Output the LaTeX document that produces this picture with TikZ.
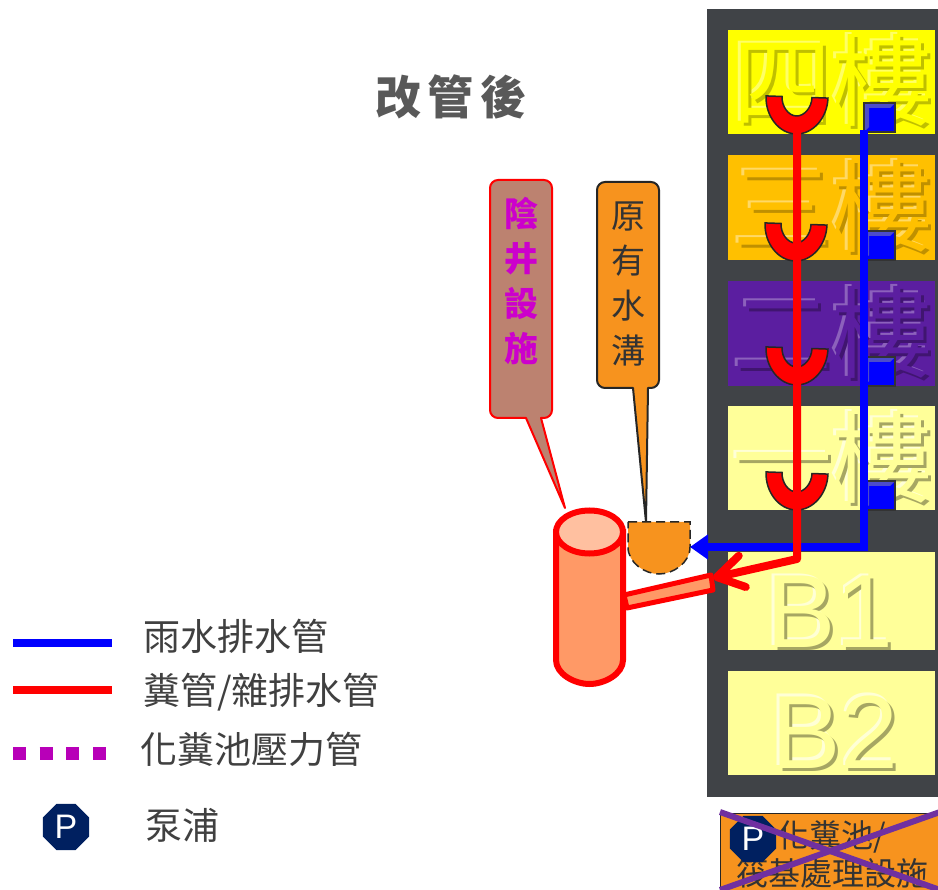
\documentclass[tikz,border=0pt]{standalone}
\usepackage{fontspec}
\setmainfont{Noto Sans CJK TC}
\newfontfamily\latinfont{Liberation Sans}
\usetikzlibrary{arrows.meta,shapes.geometric}

\definecolor{wallgray}{HTML}{404347}
\definecolor{textgray}{HTML}{404040}
\definecolor{tankorange}{HTML}{F7931E}
\definecolor{septicfill}{HTML}{FF9966}
\definecolor{septictop}{HTML}{FFC0A0}
\definecolor{manholefill}{HTML}{BC8270}
\definecolor{manholetext}{HTML}{CC00CC}
\definecolor{pumpblue}{HTML}{002060}
\definecolor{crosspurple}{HTML}{7030A0}
\definecolor{floorfour}{HTML}{FFFF00}
\definecolor{floorthree}{HTML}{FFC000}
\definecolor{floortwo}{HTML}{5B1EA0}
\definecolor{floorone}{HTML}{FFFF99}

\tikzset{
	floorbox/.style={anchor=north west, inner sep=0pt, minimum width=207pt},
	rainpipe/.style={draw=blue, line width=8pt},
	soilpipe/.style={draw=red, line width=8pt},
	bowlline/.style={fill=red, draw=black!85, line width=1.5pt},
	pumpsign/.style={regular polygon, regular polygon sides=8,
		fill=pumpblue, text=white, inner sep=0pt, minimum size=50pt,
		font=\latinfont\fontsize{34}{34}\selectfont},
	legendtext/.style={anchor=west, inner sep=0pt, text=textgray,
		font=\fontsize{37}{37}\selectfont},
	calloutbody/.style={line width=2pt, line join=round},
}

% floor label with a raised look
\newcommand{\embossed}[6]{
	\node[text=#4, font=#6] at ([shift={(-2.5,-2.5)}]#1) {#2};
	\node[text=#5, font=#6] at ([shift={(3,3)}]#1) {#2};
	\node[text=#3, font=#6] at (#1) {#2};
}
\newcommand{\bowl}[1]{
	\draw[bowlline, shift={(#1)}, rotate=-2] (-31, 0) .. controls +(0, 20) and +(-17, 0) ..
		(0, 37) .. controls +(17, 0) and +(0, 20) ..
		(31, 0) -- (15, 0)
		.. controls +(0, 10) and +(8, 0) .. (0, 19)
		.. controls +(-8, 0) and +(0, 10) .. (-15, 0)
		-- cycle;
}
\newcommand{\drainbox}[1]{
	\fill[blue] (#1) rectangle +(31, 29);
	\fill[blue!70!black!70] (#1) -- +(31, 0) -- +(26, 5) -- +(5, 5) -- +(5, 24) -- +(0, 29) -- cycle;
	\draw[black!80, line width=1.2pt] (#1) rectangle +(31, 29);
}

\newcommand{\floorfont}{\fontsize{100}{100}\selectfont}
\newcommand{\basefont}{\latinfont\fontsize{104}{104}\selectfont}

\begin{document}
\begin{tikzpicture}[x=1pt, y=-1pt]
\useasboundingbox (0, 0) rectangle (938, 890);
\clip (0, 0) rectangle (938, 890);

\fill[wallgray] (707, 9) rectangle (938, 797);

\node[floorbox, fill=floorfour, minimum height=104pt] (floor4) at (728, 30) {};
\node[floorbox, fill=floorthree, minimum height=105pt] (floor3) at (728, 155) {};
\node[floorbox, fill=floortwo, minimum height=105pt] (floor2) at (728, 281) {};
\node[floorbox, fill=floorone, minimum height=104pt] (floor1) at (728, 406) {};
\node[floorbox, fill=floorone, minimum height=98pt] (floorb1) at (728, 552) {};
\node[floorbox, fill=floorone, minimum height=104pt] (floorb2) at (728, 671) {};

\embossed{832, 81}{四樓}{floorfour}{floorfour!60!white}{floorfour!75!black}{\floorfont}
\embossed{832, 207}{三樓}{floorthree}{floorthree!60!white}{floorthree!75!black}{\floorfont}
\embossed{832, 333}{二樓}{floortwo}{floortwo!70!white}{floortwo!70!black}{\floorfont}
\embossed{832, 458}{一樓}{floorone}{floorone!40!white}{floorone!65!black}{\floorfont}
\embossed{830, 612}{B1}{floorone}{floorone!40!white}{floorone!65!black}{\basefont}
\embossed{835, 732}{B2}{floorone}{floorone!40!white}{floorone!65!black}{\basefont}

\drainbox{864, 103}
\drainbox{864, 231}
\drainbox{864, 357}
\drainbox{864, 481}

\bowl{797, 97}
\bowl{796, 224}
\bowl{797, 348}
\bowl{797, 473}

\node[anchor=center, text=black!65, inner sep=0pt,
	font=\bfseries\fontsize{46}{46}\selectfont] (title) at (451, 97)
	{改\hspace{7pt}管\hspace{7pt}後};

% callouts
\draw[calloutbody, fill=manholefill, draw=red] (526, 418) [rounded corners=8pt] -- (490, 418)
	-- (490, 180) -- (552, 180) -- (552, 418) [sharp corners] -- (541, 418) -- (565, 508) -- cycle;
\node[text=manholetext, align=center, inner sep=0pt,
	font=\bfseries\fontsize{34}{45}\selectfont] (manholelabel) at (521, 281) {陰\\井\\設\\施};

\draw[calloutbody, fill=tankorange, draw=black!85] (633, 388) [rounded corners=8pt] -- (597, 388)
	-- (597, 182) -- (659, 182) -- (659, 388) [sharp corners] -- (648, 388) -- (646, 522) -- cycle;
\node[text=black!80, align=center, inner sep=0pt,
	font=\fontsize{34}{45}\selectfont] (ditchlabel) at (628, 284) {原\\有\\水\\溝};

% ditch end
\draw[fill=tankorange, draw=black!85, line width=1.5pt, dash pattern=on 9pt off 5pt] (628, 522) -- (690, 522) -- (690, 547)
	.. controls +(0, 16) and +(14, 0) .. (659, 574)
	.. controls +(-14, 0) and +(0, 16) .. (628, 547)
	-- cycle;

% septic tank
\draw[fill=septicfill, draw=red, line width=6pt] (556, 532) -- (556, 660)
	.. controls +(0, 14) and +(-15, 0) .. (589.5, 684)
	.. controls +(15, 0) and +(0, 14) .. (623, 660)
	-- (623, 532) -- cycle;
\draw[fill=septictop, draw=red, line width=6pt] (589.5, 532) ellipse [x radius=33.5pt, y radius=21.5pt];

% pressure pipe
\draw[fill=septicfill, draw=red, line width=5pt, line join=round] (624, 595) -- (711, 575) -- (713, 590) -- (627, 608) -- cycle;

% pipes
\coordinate (rainstart) at (864, 130);
\coordinate (raincorner) at (864, 547);
\coordinate (rainend) at (690, 547);
\coordinate (soilstart) at (797, 130);
\coordinate (soilcorner) at (797, 559);
\coordinate (soilend) at (713, 578);

\draw[rainpipe, -{Triangle[length=18pt, width=24pt]}] (rainstart) -- (raincorner) -- (rainend);
\draw[soilpipe, line join=round, -{Straight Barb[length=26pt, width=32pt, round]}] (soilstart) -- (soilcorner) -- (soilend);

% bottom plate
\node[anchor=north west, fill=tankorange, draw=black!85, line width=1pt, inner sep=0pt,
	minimum width=220pt, minimum height=80pt] (plate) at (720, 813) {};
\node[align=center, inner sep=0pt, text=black!80,
	font=\fontsize{32}{38}\selectfont] (platelabel) at (832, 854) {化糞池/\\筏基處理設施};
\node[pumpsign] (platepump) at (753, 839) {P};
\draw[crosspurple, line width=6pt] (720, 812) -- (940, 890);
\draw[crosspurple, line width=6pt] (720, 890) -- (940, 812);

% legend
\coordinate (legrainl) at (13, 643);
\coordinate (legrainr) at (112, 643);
\coordinate (legsoill) at (13, 690);
\coordinate (legsoilr) at (112, 690);
\coordinate (legpressl) at (13, 753);
\coordinate (legpressr) at (107, 753);
\draw[draw=blue, line width=8pt] (legrainl) -- (legrainr);
\draw[draw=red, line width=8pt] (legsoill) -- (legsoilr);
\draw[draw=manholetext!90!black, line width=13pt, dash pattern=on 13pt off 13.7pt] (legpressl) -- (legpressr);

\node[legendtext] (legrain) at (143, 636) {雨水排水管};
\node[legendtext] (legsoil) at (143, 692) {糞管/雜排水管};
\node[legendtext] (legpress) at (140, 749) {化糞池壓力管};
\node[pumpsign] (legpump) at (66, 827) {P};
\node[legendtext] (legpumplabel) at (145, 825) {泵浦};

\end{tikzpicture}
\end{document}
